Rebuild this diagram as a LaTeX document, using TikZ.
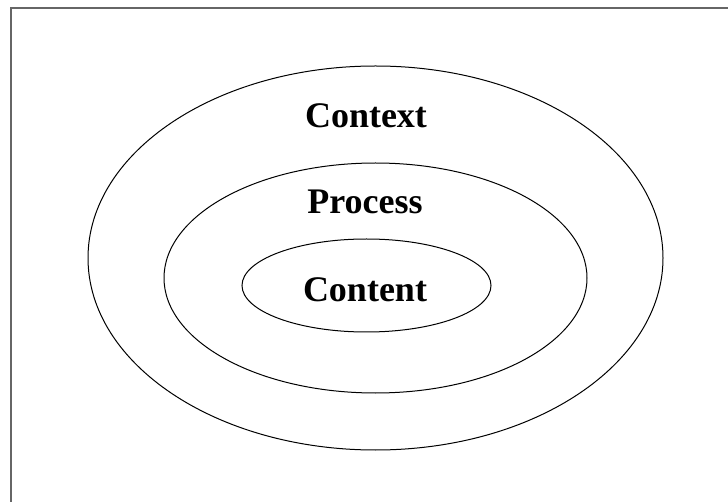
\documentclass[tikz,border=0pt]{standalone}
\usepackage{fontspec}
\setmainfont{Liberation Serif}
\begin{document}
\begin{tikzpicture}[x=1pt,y=-1pt,
  ring/.style={draw=black,line width=1pt},
  lbl/.style={font=\fontsize{36}{40}\selectfont\bfseries,anchor=base,inner sep=0pt}]
\useasboundingbox (0,0) rectangle (728,502);
\fill[white] (0,0) rectangle (728,502);
\begin{scope}
\clip (0,0) rectangle (728,502);
\draw[draw=black!60,line width=2pt] (11,8.5) rectangle (740,515);
\end{scope}
\draw[ring] (375.5,258) ellipse [x radius=287.5pt, y radius=192pt];
\draw[ring] (375.5,278) ellipse [x radius=211.5pt, y radius=115pt];
\draw[ring] (366.5,285.5) ellipse [x radius=124.5pt, y radius=46.5pt];
\node[lbl] (context) at (366,128) {Context};
\node[lbl] (process) at (365,214) {Process};
\node[lbl] (content) at (365,302) {Content};
\end{tikzpicture}
\end{document}
